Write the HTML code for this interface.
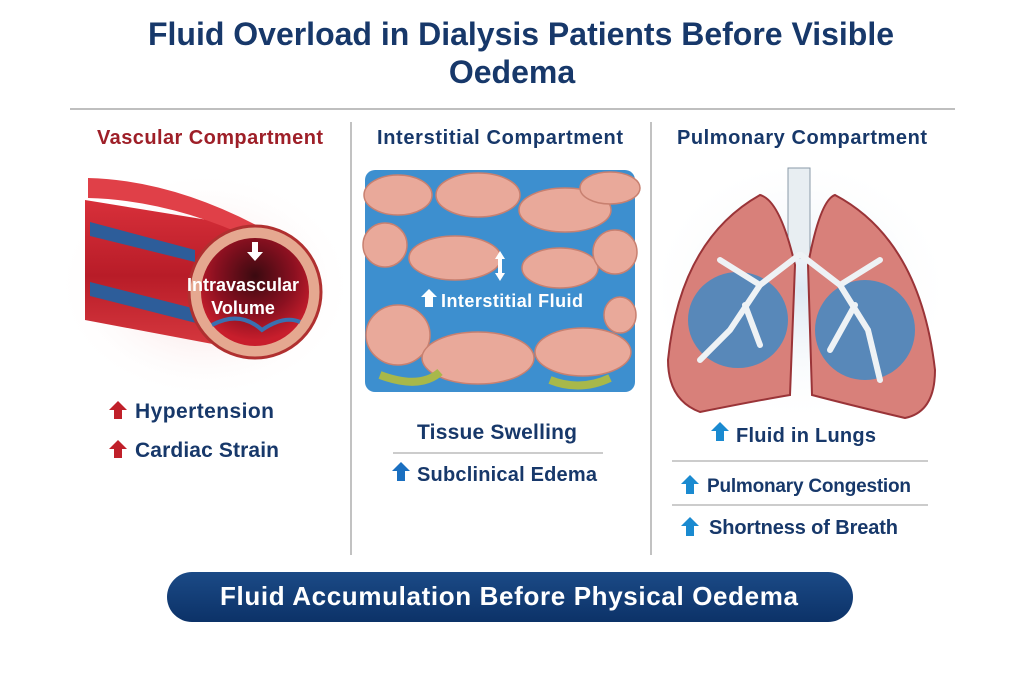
<!DOCTYPE html>
<html><head><meta charset="utf-8"><style>
body{margin:0;background:#fff;}
svg{display:block;font-family:"Liberation Sans",sans-serif;}
</style></head><body>
<svg width="1024" height="683" viewBox="0 0 1024 683" xmlns="http://www.w3.org/2000/svg">
<defs>
<radialGradient id="glowR" cx="0.5" cy="0.5" r="0.5"><stop offset="0" stop-color="#f6d0d0"/><stop offset="1" stop-color="#fff" stop-opacity="0"/></radialGradient>
<radialGradient id="glowB" cx="0.5" cy="0.5" r="0.5"><stop offset="0" stop-color="#dde8f2"/><stop offset="1" stop-color="#fff" stop-opacity="0"/></radialGradient>
<radialGradient id="lumen" cx="0.5" cy="0.35" r="0.6"><stop offset="0" stop-color="#3a0a10"/><stop offset="0.6" stop-color="#8a1020"/><stop offset="1" stop-color="#c81e2c"/></radialGradient>
<linearGradient id="tube" x1="0" y1="0" x2="0" y2="1"><stop offset="0" stop-color="#d8303a"/><stop offset="0.5" stop-color="#b81c28"/><stop offset="1" stop-color="#d83a40"/></linearGradient>
<linearGradient id="pill" x1="0" y1="0" x2="0" y2="1"><stop offset="0" stop-color="#1b4a86"/><stop offset="1" stop-color="#0c3268"/></linearGradient>
</defs>
<rect width="1024" height="683" fill="#fff"/>
<text x="521" y="45" text-anchor="middle" font-size="32" font-weight="bold" fill="#17386a" textLength="746">Fluid Overload in Dialysis Patients Before Visible</text>
<text x="512" y="83" text-anchor="middle" font-size="32" font-weight="bold" fill="#17386a">Oedema</text>
<line x1="70" y1="109" x2="955" y2="109" stroke="#999" stroke-width="1.2"/>
<line x1="351" y1="122" x2="351" y2="555" stroke="#999" stroke-width="1.2"/>
<line x1="651" y1="122" x2="651" y2="555" stroke="#999" stroke-width="1.2"/>
<text x="210" y="144" text-anchor="middle" font-size="20" font-weight="bold" fill="#9e1f28" textLength="226">Vascular Compartment</text>
<text x="500" y="144" text-anchor="middle" font-size="20" font-weight="bold" fill="#17386a" textLength="246">Interstitial Compartment</text>
<text x="802" y="144" text-anchor="middle" font-size="20" font-weight="bold" fill="#17386a" textLength="250">Pulmonary Compartment</text>

<!-- vessel -->
<ellipse cx="205" cy="285" rx="150" ry="115" fill="url(#glowR)"/>
<path d="M85 200 L245 226 L255 352 L85 320 Z" fill="url(#tube)"/>
<path d="M88 178 Q170 180 258 226 L255 240 Q170 200 88 198Z" fill="#e04048"/>
<path d="M90 222 L195 250 L195 262 L90 236Z" fill="#2d5d9a"/>
<path d="M90 282 L200 310 L200 324 L90 296Z" fill="#2d5d9a"/>
<circle cx="255" cy="292" r="66" fill="#e5a890" stroke="#b03030" stroke-width="3"/>
<circle cx="255" cy="292" r="54" fill="url(#lumen)"/>
<path d="M212 325 Q240 310 262 330 Q284 315 300 322" stroke="#3a70b0" stroke-width="4" fill="none"/>
<path d="M252 242 h6 v10 h5 l-8 9 -8 -9 h5z" fill="#fff"/>
<text x="243" y="291" text-anchor="middle" font-size="18" font-weight="bold" fill="#fff" textLength="112">Intravascular</text>
<text x="243" y="314" text-anchor="middle" font-size="18" font-weight="bold" fill="#fff">Volume</text>
<path d="M118 401 l9 9 h-5 v9 h-8 v-9 h-5z" fill="#c0202a"/>
<text x="135" y="418" font-size="21" font-weight="bold" fill="#17386a" textLength="139">Hypertension</text>
<path d="M118 440 l9 9 h-5 v9 h-8 v-9 h-5z" fill="#c0202a"/>
<text x="135" y="457" font-size="21" font-weight="bold" fill="#17386a" textLength="144">Cardiac Strain</text>

<!-- interstitial -->
<rect x="365" y="170" width="270" height="222" rx="10" fill="#3d8fcf"/>
<g fill="#e9a99a" stroke="#c88070" stroke-width="1.5">
<ellipse cx="398" cy="195" rx="34" ry="20"/><ellipse cx="478" cy="195" rx="42" ry="22"/><ellipse cx="565" cy="210" rx="46" ry="22"/><ellipse cx="610" cy="188" rx="30" ry="16"/>
<ellipse cx="385" cy="245" rx="22" ry="22"/><ellipse cx="455" cy="258" rx="46" ry="22"/><ellipse cx="560" cy="268" rx="38" ry="20"/><ellipse cx="615" cy="252" rx="22" ry="22"/>
<ellipse cx="398" cy="335" rx="32" ry="30"/><ellipse cx="478" cy="358" rx="56" ry="26"/><ellipse cx="583" cy="352" rx="48" ry="24"/><ellipse cx="620" cy="315" rx="16" ry="18"/>
</g>
<path d="M380 375 Q420 390 440 372 M550 380 Q580 392 610 378" stroke="#a8b84a" stroke-width="8" fill="none"/>
<path d="M500 251 l5 8 h-3 v14 h3 l-5 8 -5 -8 h3 v-14 h-3z" fill="#fff"/>
<path d="M429 289 l8 8 h-4 v10 h-8 v-10 h-4z" fill="#fff"/>
<text x="441" y="307" font-size="18" font-weight="bold" fill="#fff" textLength="142">Interstitial Fluid</text>
<text x="497" y="439" text-anchor="middle" font-size="21" font-weight="bold" fill="#17386a" textLength="160">Tissue Swelling</text>
<line x1="393" y1="453" x2="603" y2="453" stroke="#999" stroke-width="1"/>
<path d="M401 462 l9 9 h-5 v10 h-8 v-10 h-5z" fill="#1a6fc0"/>
<text x="417" y="481" font-size="20" font-weight="bold" fill="#17386a" textLength="180">Subclinical Edema</text>

<!-- lungs -->
<ellipse cx="800" cy="290" rx="155" ry="135" fill="url(#glowB)"/>
<rect x="788" y="168" width="22" height="90" fill="#e8eef2" stroke="#8a9aa8"/>
<path d="M760 195 Q680 240 668 360 Q668 400 700 412 Q760 400 790 395 L795 265 Q780 200 760 195Z" fill="#d8807a" stroke="#9a3438" stroke-width="2"/>
<path d="M835 195 Q920 240 935 370 Q935 412 905 418 Q850 405 812 395 L808 265 Q820 200 835 195Z" fill="#d8807a" stroke="#9a3438" stroke-width="2"/>
<ellipse cx="738" cy="320" rx="50" ry="48" fill="#4a88c0" opacity="0.9"/>
<ellipse cx="865" cy="330" rx="50" ry="50" fill="#4a88c0" opacity="0.9"/>
<g stroke="#eef2f5" stroke-width="6" fill="none" stroke-linecap="round">
<path d="M799 255 L760 285 L730 330 L700 360"/><path d="M760 285 L720 260"/><path d="M745 305 L760 345"/>
<path d="M801 255 L840 285 L868 330 L880 380"/><path d="M840 285 L880 260"/><path d="M855 305 L830 350"/>
</g>
<path d="M720 422 l9 9 h-5 v10 h-8 v-10 h-5z" fill="#1a8ad0"/>
<text x="736" y="442" font-size="20" font-weight="bold" fill="#17386a" textLength="140">Fluid in Lungs</text>
<line x1="672" y1="461" x2="928" y2="461" stroke="#999" stroke-width="1"/>
<path d="M690 475 l9 9 h-5 v10 h-8 v-10 h-5z" fill="#1a8ad0"/>
<text x="707" y="492" font-size="19" font-weight="bold" fill="#17386a" textLength="204">Pulmonary Congestion</text>
<line x1="672" y1="505" x2="928" y2="505" stroke="#999" stroke-width="1"/>
<path d="M690 517 l9 9 h-5 v10 h-8 v-10 h-5z" fill="#1a8ad0"/>
<text x="709" y="534" font-size="20" font-weight="bold" fill="#17386a" textLength="189">Shortness of Breath</text>

<rect x="167" y="572" width="686" height="50" rx="25" fill="url(#pill)"/>
<text x="509" y="605" text-anchor="middle" font-size="26" font-weight="bold" fill="#fff" textLength="578">Fluid Accumulation Before Physical Oedema</text>
</svg>
</body></html>
